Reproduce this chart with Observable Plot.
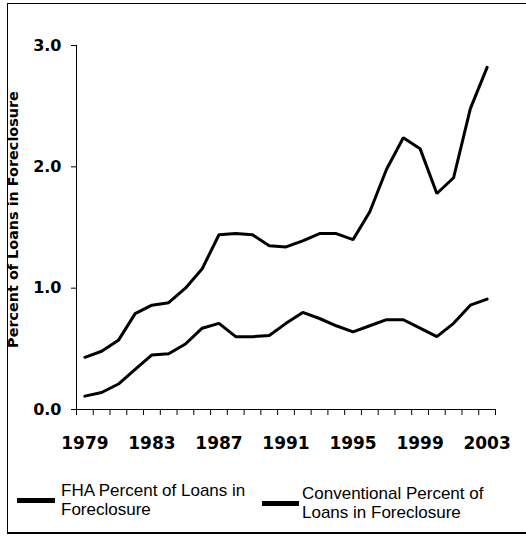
<!DOCTYPE html>
<html>
<head>
<meta charset="utf-8">
<script src="https://cdn.jsdelivr.net/npm/d3@7"></script>
<script src="https://cdn.jsdelivr.net/npm/@observablehq/plot@0.6"></script>
<style>
  html, body { margin: 0; padding: 0; background: #fff; overflow: hidden; }
  #wrap { position: relative; width: 526px; height: 536px; }
  #border { position: absolute; left: 7px; top: 3px; width: 540px; height: 528px;
            border: 1px solid #000; border-bottom-width: 2px; }
  #chart { position: absolute; left: 0; top: 0; }
  .sw { position: absolute; height: 5px; background: #000; }
  .lt { position: absolute; font-family: "Liberation Sans", Arial, sans-serif; font-size: 17px;
        line-height: 19px; color: #000; white-space: nowrap; }
</style>
</head>
<body>
<div id="wrap">
  <div id="border"></div>
  <div id="chart"></div>
  <div class="sw" style="left:17px; top:498px; width:38px;"></div>
  <div class="lt" id="lt1" style="left:61px; top:481px;"></div>
  <div class="sw" style="left:262px; top:501px; width:37px;"></div>
  <div class="lt" id="lt2" style="left:302px; top:484px;"></div>
</div>
<script>
const years = [1979,1980,1981,1982,1983,1984,1985,1986,1987,1988,1989,1990,1991,1992,1993,1994,1995,1996,1997,1998,1999,2000,2001,2002,2003];
const fha   = [0.43,0.48,0.57,0.79,0.86,0.88,1.00,1.16,1.44,1.45,1.44,1.35,1.34,1.39,1.45,1.45,1.40,1.63,1.98,2.24,2.15,1.78,1.91,2.48,2.82];
const conv  = [0.11,0.14,0.21,0.33,0.45,0.46,0.54,0.67,0.71,0.60,0.60,0.61,0.71,0.80,0.75,0.69,0.64,0.69,0.74,0.74,0.67,0.60,0.71,0.86,0.91];
const xTickLabels = [1979,1983,1987,1991,1995,1999,2003];
const yTicks = [0,1,2,3];
const yTitle = "Percent of Loans in Foreclosure";
const seriesNames = [["FHA Percent of Loans in","Foreclosure"],["Conventional Percent of","Loans in Foreclosure"]];

const xMin = years[0] - 0.5, xMax = years[years.length-1] + 0.5;
const boundaries = d3.range(xMin, xMax + 0.01, 1);

const chart = Plot.plot({
  width: 526, height: 470,
  marginLeft: 76, marginRight: 31, marginTop: 45, marginBottom: 61,
  x: {type: "linear", domain: [xMin, xMax]},
  y: {domain: [0, 3]},
  style: {fontFamily: "DejaVu Sans, Verdana, sans-serif", background: "transparent", color: "#000", overflow: "visible"},
  marks: [
    Plot.axisY({ticks: yTicks, tickFormat: d => d.toFixed(1), tickSize: 5, tickPadding: 10,
                fontSize: 16, fontWeight: "bold", label: null, stroke: "#000"}),
    Plot.axisX({ticks: boundaries, tickSize: 6, tickFormat: () => "", label: null, stroke: "#000"}),
    Plot.axisX({ticks: xTickLabels, tickSize: 0, tickPadding: 27, tickFormat: d => String(d),
                fontSize: 17, fontWeight: "bold", label: null}),
    Plot.ruleY([0], {stroke: "#000", strokeWidth: 1}),
    Plot.ruleX([xMin], {y1: 0, y2: 3, stroke: "#000", strokeWidth: 1}),
    Plot.line(years, {x: years, y: fha, stroke: "#000", strokeWidth: 3, strokeLinejoin: "miter"}),
    Plot.line(years, {x: years, y: conv, stroke: "#000", strokeWidth: 3, strokeLinejoin: "miter"}),
    Plot.text([yTitle], {frameAnchor: "left", textAnchor: "middle", lineAnchor: "middle", rotate: -90,
                         dx: -63, dy: -8, fontWeight: "bold", fontSize: 14.4, fill: "#000"})
  ]
});
document.getElementById("chart").appendChild(chart);
document.getElementById("lt1").innerHTML = seriesNames[0].join("<br>");
document.getElementById("lt2").innerHTML = seriesNames[1].join("<br>");
</script>
</body>
</html>
